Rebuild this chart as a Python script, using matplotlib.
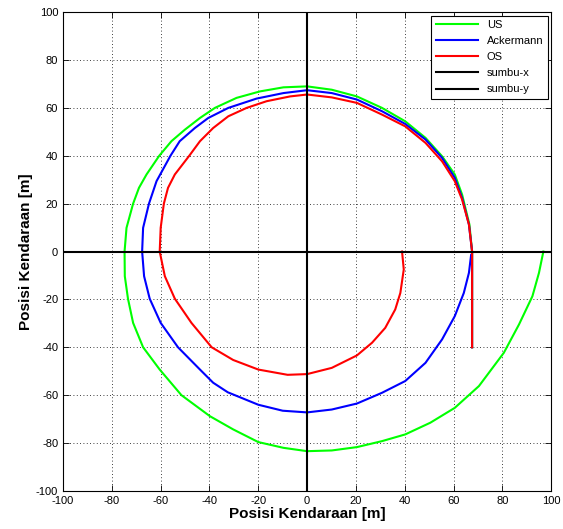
import matplotlib
matplotlib.use("Agg")
import matplotlib.pyplot as plt

plt.rcParams['font.family'] = ['Liberation Sans', 'DejaVu Sans']
plt.rcParams['axes.unicode_minus'] = False

# DATA

us_x = [67.6, 67.6, 66.5, 63.5, 60.5, 55.3, 48.5, 40.2, 30.7, 20.4, 10.1, 0.0, -9.7, -19.3,
        -28.9, -37.8, -43.9, -50.1, -55.6, -60.6, -65.8, -68.9, -71.3, -74.0, -74.8, -74.7,
        -73.4, -71.3, -67.2, -60.4, -51.5, -39.8, -30.3, -20.0, -9.7, 0.0, 10.1, 20.4, 30.7,
        40.2, 50.5, 60.5, 70.4, 80.6, 86.8, 92.3, 95.0, 96.8]
us_y = [-40.0, 0.0, 11.3, 23.8, 32.2, 39.8, 47.5, 54.4, 60.0, 64.8, 67.6, 69.0, 68.6, 66.9,
        64.2, 60.0, 55.8, 50.9, 46.1, 40.0, 32.2, 26.6, 20.0, 9.9, 0.0, -10.3,
        -19.7, -29.8, -40.0, -49.3, -60.0, -68.8, -74.3, -79.6, -82.0, -83.4, -83.1, -81.7, -79.2,
        -76.4, -71.5, -65.3, -56.2, -42.3, -30.5, -18.7, -8.9, 0.0]

ack_x = [67.6, 67.6, 66.3, 63.5, 60.5, 55.3, 48.5, 40.2, 30.7, 20.4, 10.1, 0.0, -9.7, -20.7,
         -32.3, -40.5, -46.0, -52.2, -56.0, -61.7, -64.8, -67.2, -67.6, -66.8, -64.5, -60.0,
         -52.9, -43.9, -38.5, -32.5, -20.0, -10.0, 0.0, 10.1, 20.4, 30.7, 40.2, 48.5, 55.3,
         60.5, 64.2, 66.3, 67.2]
ack_y = [-40.0, 0.0, 11.3, 22.4, 30.8, 39.1, 46.8, 53.3, 58.6, 63.5, 66.2, 67.4, 66.2, 63.9,
         60.0, 55.8, 51.6, 46.1, 40.0, 29.4, 20.0, 9.9, 0.0, -10.3, -19.7, -29.8,
         -40.0, -49.3, -54.8, -58.8, -64.0, -66.5, -67.2, -66.0, -63.5, -59.0, -54.1, -46.5, -36.7,
         -27.0, -17.3, -8.9, -1.4]

os_x = [67.6, 67.6, 66.3, 63.5, 60.5, 55.3, 48.5, 40.2, 30.7, 20.4, 10.1, 0.0, -7.0, -16.6,
        -24.8, -32.3, -38.5, -43.9, -48.3, -54.2, -57.0, -58.7, -60.0, -60.4, -58.3, -54.2,
        -47.4, -39.1, -30.3, -20.0, -8.0, 0.0, 10.1, 20.4, 26.6, 32.0, 36.1, 38.2, 39.6, 38.9]
os_y = [-40.0, 0.0, 11.3, 21.7, 29.4, 37.7, 45.4, 52.3, 57.2, 62.1, 64.4, 65.6, 64.8, 62.8,
        60.0, 56.5, 51.6, 46.1, 40.0, 32.2, 26.6, 20.0, 9.9, 0.0, -10.3, -19.7,
        -29.8, -40.0, -45.3, -49.3, -51.5, -51.2, -48.6, -43.4, -38.1, -31.9, -24.2, -17.3, -7.5, 0.0]

axis_lim = [-100, 100]
ticks = [-100, -80, -60, -40, -20, 0, 20, 40, 60, 80, 100]


# PLOT

fig = plt.figure(figsize=(5.63, 5.29), dpi=100)
ax = fig.add_axes([0.112, 0.072, 0.867, 0.905])

ax.plot(us_x, us_y, color=(0, 1, 0), lw=1.5, label="US")
ax.plot(ack_x, ack_y, color=(0, 0, 1), lw=1.5, label="Ackermann")
ax.plot(os_x, os_y, color=(1, 0, 0), lw=1.5, label="OS")
ax.plot(axis_lim, [0, 0], color="k", lw=1.5, label="sumbu-x")
ax.plot([0, 0], axis_lim, color="k", lw=1.5, label="sumbu-y")

ax.set_xlim(axis_lim)
ax.set_ylim(axis_lim)
ax.set_xticks(ticks)
ax.set_yticks(ticks)
ax.tick_params(direction="in", top=True, right=True, labelsize=8, length=4, width=0.6)
ax.grid(True, color="k", linestyle=(0, (1, 3)), linewidth=0.6)
for s in ax.spines.values():
    s.set_linewidth(0.8)

ax.set_xlabel("Posisi Kendaraan [m]", fontsize=11, fontweight="bold", labelpad=1)
ax.set_ylabel("Posisi Kendaraan [m]", fontsize=11, fontweight="bold", labelpad=2)

leg = ax.legend(loc="upper right", fontsize=8, handlelength=3.8, fancybox=False,
                framealpha=1, edgecolor="k", borderaxespad=0.3, labelspacing=0.55)
leg.get_frame().set_linewidth(0.8)

fig.savefig("out.png", dpi=100)
